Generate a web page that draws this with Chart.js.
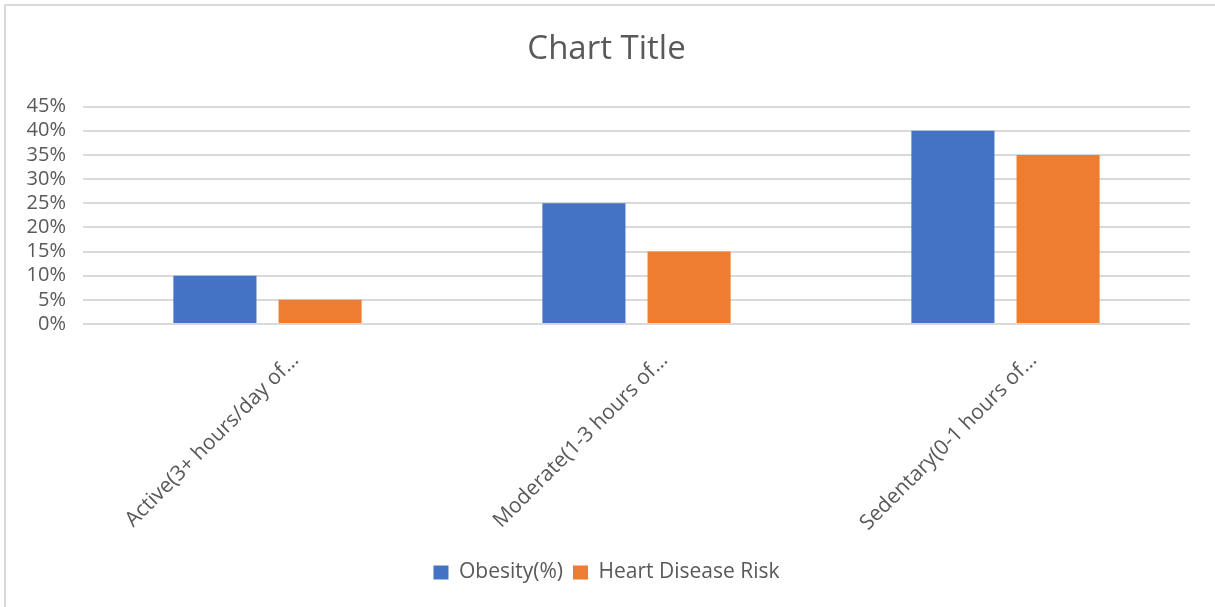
<!DOCTYPE html>
<html>
<head>
<meta charset="utf-8">
<script src="https://cdn.jsdelivr.net/npm/chart.js@4.4.0/dist/chart.umd.min.js"></script>
<style>
  html, body { margin: 0; padding: 0; background: #fff; overflow: hidden; }
  #frame { position: absolute; left: 4px; top: 4px; width: 1300px; height: 700px; border: 2px solid #d9d9d9; }
  #wrap { position: absolute; left: 0; top: 0; width: 1215px; height: 607px; }
</style>
</head>
<body>
<div id="frame"></div>
<div id="wrap"><canvas id="myChart"></canvas></div>
<script>
// categories and values
const categories = ["Active(3+ hours/day of...", "Moderate(1-3 hours of...", "Sedentary(0-1 hours of..."];
const obesity = [10, 25, 40];
const heartRisk = [5, 15, 35];
const yTicks = [0, 5, 10, 15, 20, 25, 30, 35, 40, 45];

const textColor = "#595959";
const fontName = "'Open Sans', sans-serif";

let myChart = document.getElementById("myChart").getContext("2d");

const barChart1 = {
    type: "bar",
    data: {
        labels: categories,
        datasets: [{
            label: "Obesity(%)",
            data: obesity,
            backgroundColor: "#4472C4",
            borderWidth: 0
        }, {
            label: "Heart Disease Risk",
            data: heartRisk,
            backgroundColor: "#ED7D31",
            borderWidth: 0
        }]
    },
    options: {
        responsive: true,
        maintainAspectRatio: false,
        animation: false,
        datasets: {
            bar: { categoryPercentage: 0.57, barPercentage: 0.79 }
        },
        layout: {
            padding: { left: 23, right: 25, top: 14, bottom: 14 }
        },
        plugins: {
            title: {
                display: true,
                text: "Chart Title",
                color: textColor,
                font: { family: fontName, size: 33, weight: "normal" },
                padding: { top: 16, bottom: 37 }
            },
            legend: {
                position: "bottom",
                labels: {
                    color: textColor,
                    font: { family: fontName, size: 21 },
                    boxWidth: 15,
                    boxHeight: 14,
                    padding: 10
                }
            },
            tooltip: { enabled: false }
        },
        scales: {
            x: {
                grid: { display: false, drawTicks: false },
                border: { display: false },
                afterFit: function (scale) {
                    // fixed label band, and no extra side room for the slanted labels
                    scale.height = 228;
                    scale.paddingLeft = 0;
                    scale.paddingRight = 0;
                },
                ticks: {
                    color: textColor,
                    font: { family: fontName, size: 21 },
                    minRotation: 45,
                    maxRotation: 45,
                    autoSkip: false,
                    labelOffset: 28,
                    padding: 24
                }
            },
            y: {
                min: 0,
                max: 45,
                afterBuildTicks: function (scale) {
                    scale.ticks = yTicks.map(function (v) { return { value: v }; });
                },
                afterFit: function (scale) {
                    scale.width = 60;
                },
                grid: { color: "#d9d9d9", lineWidth: 2, drawTicks: false },
                border: { display: false },
                ticks: {
                    color: textColor,
                    font: { family: fontName, size: 20 },
                    padding: 17,
                    autoSkip: false,
                    callback: function (v) { return v + "%"; }
                }
            }
        }
    }
};

let barChart = new Chart(myChart, barChart1);
</script>
</body>
</html>
